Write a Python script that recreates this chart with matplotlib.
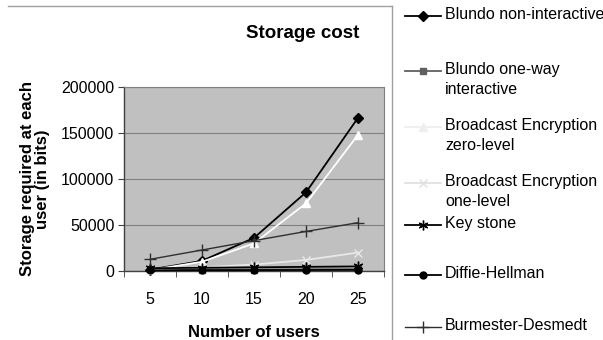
import matplotlib
matplotlib.use("Agg")
import matplotlib.pyplot as plt
from matplotlib.lines import Line2D
import numpy as np

plt.rcParams['font.family'] = ['Liberation Sans', 'DejaVu Sans']

users = [5, 10, 15, 20, 25]
blundo_non = [1500, 11000, 36000, 85500, 166500]
blundo_oneway = [1200, 1400, 1600, 1800, 2000]
be_zero = [1000, 10000, 30000, 73500, 148000]
be_one = [1500, 4000, 7000, 12000, 20000]
key_stone = [3000, 3500, 4000, 4500, 5000]
diffie = [800, 900, 1000, 1100, 1200]
burmester = [12700, 22800, 33000, 43000, 52500]

series = [
    ("Blundo non-interactive", blundo_non, dict(color='black', marker='D', ms=5, mfc='black', mec='black', lw=1.3), 'black'),
    ("Blundo one-way\ninteractive", blundo_oneway, dict(color='#606060', marker='s', ms=4, mfc='#606060', mec='#606060', lw=1.3), '#606060'),
    ("Broadcast Encryption\nzero-level", be_zero, dict(color='white', marker='^', ms=6, mfc='white', mec='white', lw=1.3), '#eeeeee'),
    ("Broadcast Encryption\none-level", be_one, dict(color='#e8e8e8', marker='x', ms=6, mfc='#e8e8e8', mec='#e8e8e8', lw=1.3), '#e0e0e0'),
    ("Key stone", key_stone, dict(color='black', marker=(6, 2, 0), ms=7, mec='black', lw=1.3), 'black'),
    ("Diffie-Hellman", diffie, dict(color='black', marker='o', ms=5, mfc='black', mec='black', lw=1.3), 'black'),
    ("Burmester-Desmedt", burmester, dict(color='#303030', marker='+', ms=8, mec='#303030', lw=1.0), '#303030'),
]

fig = plt.figure(figsize=(6.03, 3.40), dpi=100)
ax = fig.add_axes([124/603, 69/340, 260/603, 184/340])
ax.set_facecolor('#c0c0c0')

x = np.arange(len(users))
draw_order = [6, 3, 2, 1, 4, 5, 0]
for i in draw_order:
    name, vals, st, _ = series[i]
    ax.plot(x, vals, zorder=3 + i * 0.01, clip_on=False, **st)

ax.set_xlim(-0.5, len(users) - 0.5)
ax.set_ylim(0, 200000)
ax.set_yticks([0, 50000, 100000, 150000, 200000])
ax.set_yticklabels(['0', '50000', '100000', '150000', '200000'], fontsize=11.5)
ax.set_xticks(x)
ax.set_xticklabels([str(u) for u in users], fontsize=11.5)
ax.tick_params(axis='x', length=0, pad=15)
ax.set_xticks(np.arange(-0.5, len(users), 1), minor=True)
ax.tick_params(axis='x', which='minor', length=4, direction='out', color='#404040')
ax.tick_params(axis='y', length=4, direction='out', color='#404040', pad=3)
ax.yaxis.grid(True, color='#808080', lw=0.8)
ax.set_axisbelow(True)
for s in ['top', 'right']:
    ax.spines[s].set_color('#808080')
for s in ['left', 'bottom']:
    ax.spines[s].set_color('#404040')
    ax.spines[s].set_linewidth(1.0)

ax.set_xlabel('Number of users', fontsize=12, fontweight='bold', labelpad=13)
ax.set_ylabel('Storage required at each\nuser (in bits)', fontsize=12, fontweight='bold', labelpad=8, linespacing=1.0)

fig.text(303/603, 1 - 33/340, 'Storage cost', ha='center', va='center', fontsize=13.5, fontweight='bold')

# frame lines
fig.add_artist(Line2D([8/603, 392/603], [1 - 6/340, 1 - 6/340], transform=fig.transFigure, color='#a0a0a0', lw=1))
fig.add_artist(Line2D([392/603, 392/603], [1 - 6/340, 0], transform=fig.transFigure, color='#a0a0a0', lw=1))

# legend
leg_y = [16, 71, 127, 183, 225, 275, 327]
for (name, vals, st, hc), yy in zip(series, leg_y):
    yf = 1 - yy/340
    st2 = dict(st)
    st2['color'] = hc
    if 'mfc' in st2:
        st2['mfc'] = hc
    st2['mec'] = hc
    fig.add_artist(Line2D([405/603, 423/603, 441/603], [yf, yf, yf], transform=fig.transFigure,
                          markevery=[1], **st2))
    fig.text(445/603, yf + 9/340, name, ha='left', va='top', fontsize=11.5, linespacing=1.45,
             transform=fig.transFigure)

fig.savefig('out.png', dpi=100)
